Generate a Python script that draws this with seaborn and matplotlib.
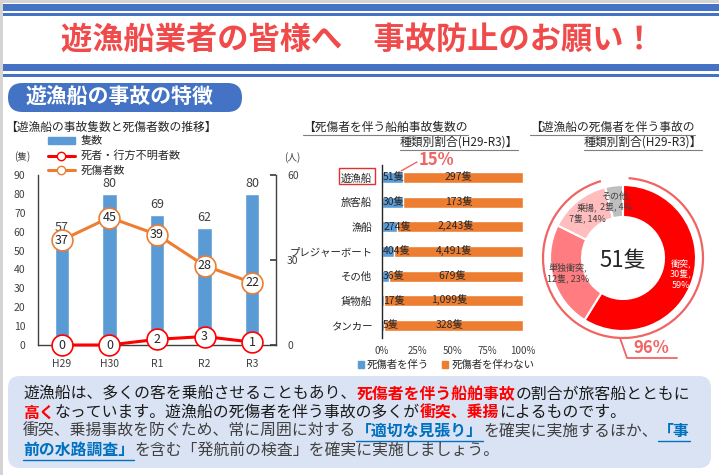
import numpy as np
import matplotlib
matplotlib.use('Agg')
import matplotlib.pyplot as plt
import seaborn as sns
from matplotlib.patches import Rectangle, FancyBboxPatch, Arc, Patch
from matplotlib.lines import Line2D

sns.set_theme(style='white')
plt.rcParams['font.family'] = ['Noto Sans CJK JP', 'DejaVu Sans']

# ---- data ----
years = ['H29', 'H30', 'R1', 'R2', 'R3']
vessels = [57, 80, 69, 62, 80]          # 隻数
deaths = [0, 0, 2, 3, 1]                # 死者・行方不明者数
casualties = [37, 45, 39, 28, 22]       # 死傷者数

ship_types = ['遊漁船', '旅客船', '漁船', 'プレジャーボート', 'その他', '貨物船', 'タンカー']
with_cas = [51, 30, 274, 404, 36, 17, 5]
without_cas = [297, 173, 2243, 4491, 679, 1099, 328]

acc_types = ['衝突', '単独衝突', '乗揚', 'その他']
acc_counts = [30, 12, 7, 2]
acc_pct = [59, 23, 14, 4]               # as printed on the chart

W, H = 719, 475
BAND = '#4472C4'
BAR_BLUE = '#5B9BD5'
ORANGE = '#ED7D31'
RED = '#FF0000'
SALMON = '#F06464'

fig = plt.figure(figsize=(W / 100, H / 100), dpi=100)

# full-figure axes in pixel coordinates (y down) for the page decorations
bg = fig.add_axes([0, 0, 1, 1])
bg.set_xlim(0, W)
bg.set_ylim(H, 0)
bg.set_autoscale_on(False)
bg.axis('off')

bg.add_patch(Rectangle((0, 0), 2.5, H, color='#d4d4d4', lw=0))
bg.add_patch(Rectangle((0, 0), W, 2.5, color='#d4d4d4', lw=0))
for y0, h in [(4, 7), (13, 3), (64, 7), (74, 3)]:
    bg.add_patch(Rectangle((2.5, y0), W, h, color=BAND, lw=0))

bg.text(358, 40, '遊漁船業者の皆様へ　事故防止のお願い！', fontsize=22.5,
        fontweight='bold', color='#F04A4A', ha='center', va='center')

bg.add_patch(FancyBboxPatch((8, 83), 234, 29, boxstyle='round,pad=0,rounding_size=14.5',
                            fc=BAND, ec='none'))
bg.text(26, 97.5, '遊漁船の事故の特徴', fontsize=15, fontweight='bold',
        color='white', ha='left', va='center')

renderer = fig.canvas.get_renderer()


def underlined(x, y, s, ha='left', size=8.5):
    t = bg.text(x, y, s, fontsize=size, ha=ha, va='center', color='#262626')
    bb = t.get_window_extent(renderer)
    x0 = x if ha == 'left' else x - bb.width
    bg.plot([x0, x0 + bb.width], [y + 7.5, y + 7.5], color='#7f7f7f', lw=0.8)


# ---- left chart: vessels and casualties ----
bg.text(5, 127, '【遊漁船の事故隻数と死傷者数の推移】', fontsize=8.5,
        ha='left', va='center', color='#262626')

ax1 = fig.add_axes([38 / W, 1 - 345 / H, 238 / W, 170 / H])
ax1.set_facecolor('none')
sns.barplot(x=years, y=vessels, color=BAR_BLUE, saturation=1, width=0.3, ax=ax1)
ax1.set_xlim(-0.5, 4.5)
ax1.set_ylim(0, 90)
ax1.set_yticks(range(0, 91, 10))
for i, v in enumerate(vessels):
    ax1.text(i, v + 2, str(v), ha='center', va='bottom', fontsize=9, color='#404040')

ax2 = ax1.twinx()
pos = np.arange(len(years))
sns.lineplot(x=pos, y=casualties, ax=ax2, color=ORANGE, lw=2.2, marker='o',
             markersize=15, markerfacecolor='white', markeredgecolor=ORANGE,
             markeredgewidth=1.2, clip_on=False)
sns.lineplot(x=pos, y=deaths, ax=ax2, color=RED, lw=2.2, marker='o',
             markersize=15, markerfacecolor='white', markeredgecolor=RED,
             markeredgewidth=1.2, clip_on=False)
for i in pos:
    ax2.text(i, casualties[i], str(casualties[i]), ha='center', va='center',
             fontsize=9, color='#262626', zorder=5)
    ax2.text(i, deaths[i], str(deaths[i]), ha='center', va='center',
             fontsize=9, color='#262626', zorder=5, clip_on=False)
ax2.set_ylim(0, 60)
ax2.set_yticks([0, 30, 60])
ax1.set_xlim(-0.5, 4.5)
ax1.set_xticks(pos)
ax1.set_xticklabels(years)

for a in (ax1, ax2):
    a.set_xlabel('')
    a.set_ylabel('')
    a.spines['top'].set_visible(False)
ax1.spines['right'].set_visible(False)
ax2.spines['left'].set_visible(False)
ax2.spines['bottom'].set_visible(False)
for sp in ['left', 'bottom']:
    ax1.spines[sp].set_color('#404040')
    ax1.spines[sp].set_linewidth(1)
ax2.spines['right'].set_color('#404040')
ax2.spines['right'].set_linewidth(1)
ax1.tick_params(axis='y', length=0, pad=9, labelsize=7.5, labelcolor='#404040')
ax1.tick_params(axis='x', length=0, pad=10, labelsize=7.5, labelcolor='#404040')
ax2.tick_params(axis='y', direction='in', length=4, color='#404040', pad=8,
                labelsize=7.5, labelcolor='#404040')

bg.text(22, 157, '(隻)', fontsize=7, ha='center', va='center', color='#404040')
bg.text(292, 158, '(人)', fontsize=7, ha='center', va='center', color='#404040')

handles = [Patch(color=BAR_BLUE),
           Line2D([], [], color=RED, lw=2.2, marker='o', markersize=6,
                  markerfacecolor='white', markeredgecolor=RED),
           Line2D([], [], color=ORANGE, lw=2.2, marker='o', markersize=6,
                  markerfacecolor='white', markeredgecolor=ORANGE)]
fig.legend(handles, ['隻数', '死者・行方不明者数', '死傷者数'], loc='upper left',
           bbox_to_anchor=(48 / W, 1 - 136 / H), frameon=False, fontsize=8,
           handlelength=2.4, handleheight=0.55, labelspacing=0.38,
           handletextpad=0.5, borderpad=0, borderaxespad=0)

# ---- middle chart: share of accidents with casualties ----
underlined(303, 127, '【死傷者を伴う船舶事故隻数の')
underlined(518, 142, '種類別割合(H29-R3)】', ha='right')

pct_with = [w / (w + o) * 100 for w, o in zip(with_cas, without_cas)]
ax3 = fig.add_axes([382 / W, 1 - 338 / H, 141 / W, 173 / H])
ax3.set_facecolor('none')
sns.barplot(x=[100] * len(ship_types), y=ship_types, color=ORANGE, saturation=1,
            orient='h', width=0.45, ax=ax3)
sns.barplot(x=pct_with, y=ship_types, color=BAR_BLUE, saturation=1,
            orient='h', width=0.45, ax=ax3)
ax3.set_xlim(0, 100)
ax3.set_xticks([0, 25, 50, 75, 100])
ax3.set_xticklabels(['0%', '25%', '50%', '75%', '100%'])
ax3.set_xlabel('')
ax3.set_ylabel('')
for sp in ['top', 'right', 'bottom']:
    ax3.spines[sp].set_visible(False)
ax3.spines['left'].set_color('#262626')
ax3.spines['left'].set_linewidth(1)
ax3.tick_params(axis='y', length=0, pad=7, labelsize=7.5, labelcolor='#262626')
ax3.tick_params(axis='x', length=0, pad=6, labelsize=7, labelcolor='#404040')
for i, (w, o, p) in enumerate(zip(with_cas, without_cas, pct_with)):
    ax3.text(0.8, i, f'{w}隻', ha='left', va='center', fontsize=7.5, color='#262626')
    ax3.text((p + 100) / 2 - 3, i, f'{o:,}隻', ha='center', va='center',
             fontsize=7.5, color='#262626')

bg.add_patch(Rectangle((339, 168), 36, 16, fill=False, ec='#E03030', lw=1))
bg.plot([401, 417], [171, 162], color=SALMON, lw=1)
bg.text(419, 160, f'{pct_with[0]:.0f}%', fontsize=12, fontweight='bold',
        color=SALMON, ha='left', va='center')

fig.legend([Patch(color=BAR_BLUE), Patch(color=ORANGE)], ['死傷者を伴う', '死傷者を伴わない'],
           loc='upper center', bbox_to_anchor=(446 / W, 1 - 360 / H), ncol=2,
           frameon=False, fontsize=7.5, handlelength=0.6, handleheight=0.6,
           handletextpad=0.3, columnspacing=1.2, borderpad=0, borderaxespad=0)

# ---- right chart: accident types donut ----
underlined(530, 127, '【遊漁船の死傷者を伴う事故の')
underlined(702, 142, '種類別割合(H29-R3)】', ha='right')

cx, cy = 623, 258
ax4 = fig.add_axes([(cx - 95) / W, 1 - (cy + 95) / H, 190 / W, 190 / H])
donut_colors = ['#FF0000', '#FF7C80', '#FFBDBE', '#BFBFBF']
ax4.pie(acc_counts, radius=73, startangle=90, counterclock=False, colors=donut_colors,
        wedgeprops=dict(width=32, edgecolor='white', linewidth=1.5))
ax4.set_xlim(-95, 95)
ax4.set_ylim(-95, 95)
ax4.set_aspect('equal')
ax4.axis('off')

total = sum(acc_counts)
frac = np.array(acc_counts) / total
start = np.concatenate([[0], np.cumsum(frac)[:-1]])
for k, name in enumerate(acc_types):
    ang = np.deg2rad(90 - (start[k] + frac[k] / 2) * 360)
    r = 60 if k == 0 else 57
    if k == 0:
        lab = f'{name},\n{acc_counts[k]}隻,\n{acc_pct[k]}%'
    else:
        lab = f'{name},\n{acc_counts[k]}隻, {acc_pct[k]}%'
    ax4.text(r * np.cos(ang), r * np.sin(ang), lab, ha='center', va='center',
             fontsize=6.5, linespacing=1.25,
             color='white' if k == 0 else '#404040')
ax4.text(0, -3, f'{total}隻', fontsize=16, ha='center', va='center', color='#262626')
ax4.add_patch(Arc((0, 0), 160, 160, theta1=106, theta2=446, color=SALMON, lw=1.6))

share = 100 - acc_pct[-1]
bg.plot([620, 627, 677], [338, 358, 358], color=SALMON, lw=1.3)
bg.text(651, 348, f'{share}%', fontsize=12, fontweight='bold', color=SALMON,
        ha='center', va='center')

# ---- bottom message box ----
bg.add_patch(FancyBboxPatch((8, 376), 703, 92, boxstyle='round,pad=0,rounding_size=12',
                            fc='#DAE3F3', ec='none'))

STYLE = {'n': ('#1a1a1a', 'normal'), 'g': ('#404040', 'normal'),
         'r': ('#FF0000', 'bold'), 'b': ('#0070C0', 'bold')}


def text_runs(x, y, runs, size=11.4):
    for s, kind in runs:
        color, weight = STYLE[kind]
        t = bg.text(x, y, s, fontsize=size, color=color, fontweight=weight,
                    ha='left', va='center')
        bb = t.get_window_extent(renderer)
        if kind == 'b':
            bg.plot([x, x + bb.width], [y + 10, y + 10], color=color, lw=1)
        x += bb.width


text_runs(23, 394, [('遊漁船は、多くの客を乗船させることもあり、', 'n'),
                    ('死傷者を伴う船舶事故', 'r'), ('の割合が旅客船とともに', 'n')])
text_runs(23, 413, [('高く', 'r'), ('なっています。遊漁船の死傷者を伴う事故の多くが', 'n'),
                    ('衝突、乗揚', 'r'), ('によるものです。', 'n')])
text_runs(23, 431, [('衝突、乗揚事故を防ぐため、常に周囲に対する', 'g'), ('「適切な見張り」', 'b'),
                    ('を確実に実施するほか、', 'g'), ('「事', 'b')])
text_runs(23, 450, [('前の水路調査」', 'b'), ('を含む「発航前の検査」を確実に実施しましょう。', 'g')])

fig.savefig('out.png', dpi=100)
plt.close(fig)
